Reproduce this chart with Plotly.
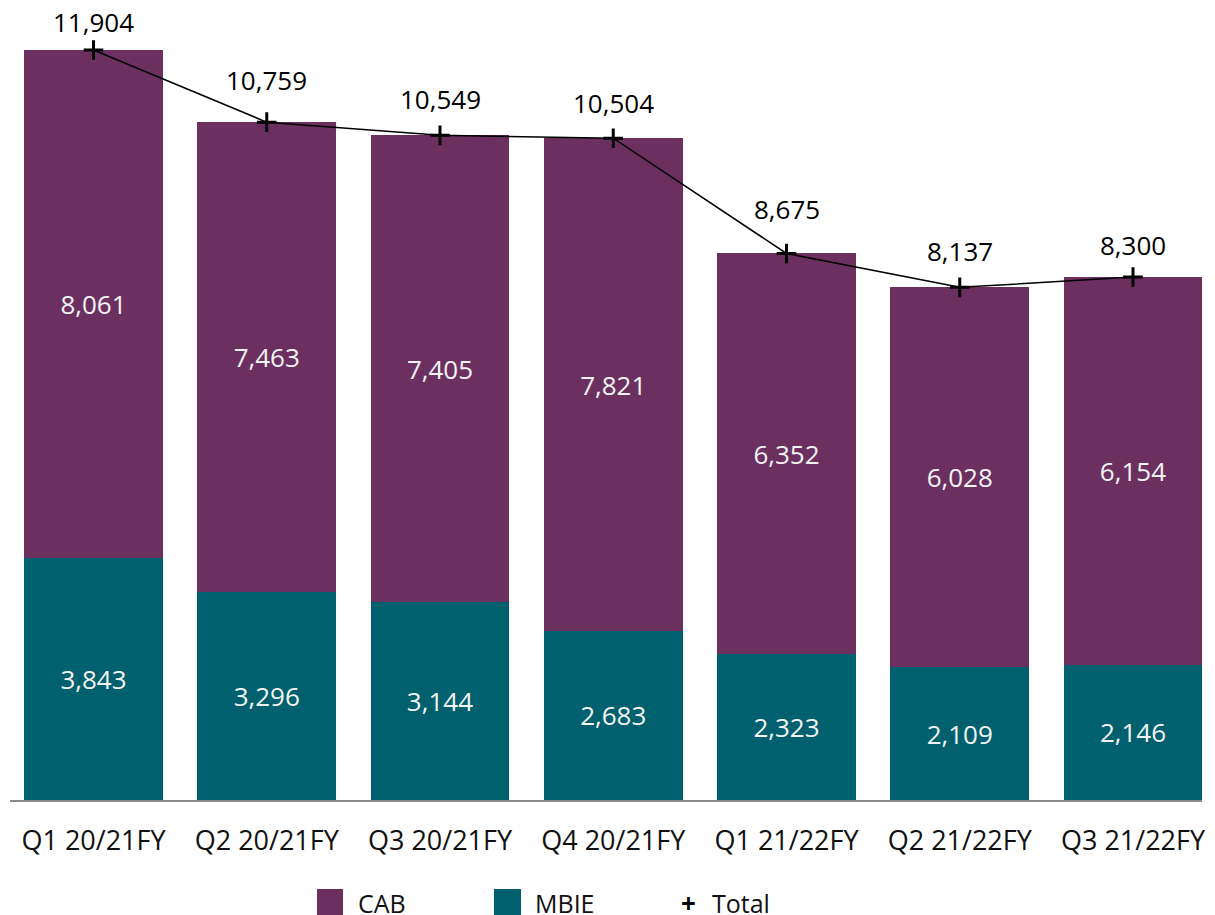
import plotly.graph_objects as go

categories = ["Q1 20/21FY", "Q2 20/21FY", "Q3 20/21FY", "Q4 20/21FY",
              "Q1 21/22FY", "Q2 21/22FY", "Q3 21/22FY"]
mbie = [3843, 3296, 3144, 2683, 2323, 2109, 2146]
cab = [8061, 7463, 7405, 7821, 6352, 6028, 6154]
total = [11904, 10759, 10549, 10504, 8675, 8137, 8300]

# label lift above each Total marker (pixels, style only)
total_label_shift = [28, 42, 36, 35, 44, 36, 32]

PURPLE = "#6b3060"
TEAL = "#00606e"
OFF = 8  # page body margin
W, H = 1215 - OFF, 915 - OFF
# plot area in screen pixels: x 10..1202, y 30..800
ML, MR, MT, MB = 10 - OFF, W - (1202 - OFF), 30 - OFF, H - (800 - OFF)
PW, PH = W - ML - MR, H - MT - MB

xs = list(range(len(categories)))
LBL = "Open Sans"

fig = go.Figure()
fig.add_trace(go.Bar(x=xs, y=mbie, name="MBIE", marker_color=TEAL, width=0.8,
                     marker_line_width=0,
                     texttemplate="%{y:,}", textposition="inside",
                     insidetextanchor="middle",
                     textfont=dict(color="#f4f4f4", size=26, family=LBL),
                     showlegend=False))
fig.add_trace(go.Bar(x=xs, y=cab, name="CAB", marker_color=PURPLE, width=0.8,
                     marker_line_width=0,
                     texttemplate="%{y:,}", textposition="inside",
                     insidetextanchor="middle",
                     textfont=dict(color="#f4f4f4", size=26, family=LBL),
                     showlegend=False))
fig.add_trace(go.Scatter(x=xs, y=total, name="Total", mode="lines+markers",
                         line=dict(color="black", width=1.5),
                         marker=dict(symbol="cross-thin", size=14,
                                     line=dict(color="black", width=3)),
                         cliponaxis=False, showlegend=False))

unit = 173.25
x0 = -(93.5 - 10) / unit
x1 = x0 + PW / unit
ymax = PH * 11904 / 750


def px(X):
    return (X - OFF - ML) / PW


def py(Y):
    return (H - MB - (Y - OFF)) / PH


shapes = [
    dict(type="rect", xref="paper", yref="paper", x0=px(317), x1=px(343),
         y0=py(915), y1=py(889), fillcolor=PURPLE, line=dict(width=0)),
    dict(type="rect", xref="paper", yref="paper", x0=px(494), x1=px(521),
         y0=py(915), y1=py(889), fillcolor=TEAL, line=dict(width=0)),
]
annotations = [
    dict(xref="paper", yref="paper", x=px(356), y=py(903), text="CAB",
         showarrow=False, xanchor="left", yanchor="middle",
         font=dict(size=25, family=LBL, color="#111")),
    dict(xref="paper", yref="paper", x=px(533), y=py(903), text="MBIE",
         showarrow=False, xanchor="left", yanchor="middle",
         font=dict(size=25, family=LBL, color="#111")),
    dict(xref="paper", yref="paper", x=px(688), y=py(903), text="<b>+</b>",
         showarrow=False, xanchor="center", yanchor="middle",
         font=dict(size=26, family=LBL, color="#000")),
    dict(xref="paper", yref="paper", x=px(710), y=py(903), text="Total",
         showarrow=False, xanchor="left", yanchor="middle",
         font=dict(size=25, family=LBL, color="#111")),
]
for xi, v, s in zip(xs, total, total_label_shift):
    annotations.append(dict(x=xi, y=v, xref="x", yref="y", text=f"{v:,}",
                            showarrow=False, yshift=s, yanchor="middle",
                            font=dict(size=26, family=LBL, color="black")))

fig.update_layout(
    width=W, height=H, barmode="stack",
    margin=dict(l=ML, r=MR, t=MT, b=MB, autoexpand=False),
    plot_bgcolor="white", paper_bgcolor="white",
    showlegend=False, shapes=shapes, annotations=annotations,
    xaxis=dict(range=[x0, x1], tickmode="array", tickvals=xs, ticktext=categories,
               showline=True, linecolor="#888888", linewidth=2, showgrid=False,
               zeroline=False, ticks="", ticklabelstandoff=16,
               tickfont=dict(size=27, family="Open Sans", color="#111")),
    yaxis=dict(range=[0, ymax], visible=False, showgrid=False),
)
fig.write_html("out.html")
